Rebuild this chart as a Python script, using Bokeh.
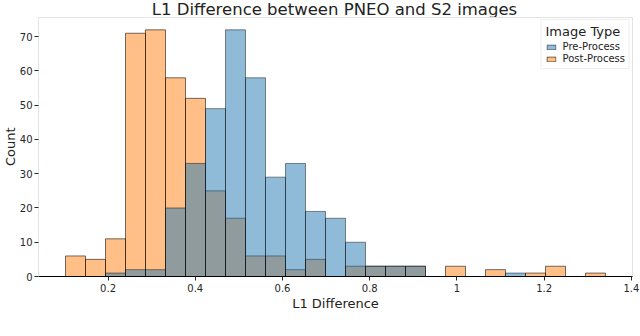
import numpy as np
from bokeh.plotting import figure
from bokeh.layouts import column, row
from bokeh.models import (ColumnDataSource, Legend, LegendItem, Div,
                          FixedTicker, Range1d)
from bokeh.embed import file_html
from bokeh.resources import INLINE

# ---------------- data ----------------
bin_start = 0.1024          # left edge of first bin
bin_width = 0.04586         # common bin width
pre_counts = [0, 0, 1, 2, 2, 20, 33, 49, 72, 58, 29, 33, 19, 17, 10,
              3, 3, 3, 0, 0, 0, 0, 1, 0, 0, 0, 0]
post_counts = [6, 5, 11, 71, 72, 58, 52, 25, 17, 6, 6, 2, 5, 0, 3,
               3, 3, 3, 0, 3, 0, 2, 0, 1, 3, 0, 1]
series_names = ["Pre-Process", "Post-Process"]
x_ticks = [0.2, 0.4, 0.6, 0.8, 1.0, 1.2, 1.4]
y_ticks = [0, 10, 20, 30, 40, 50, 60, 70]
title_text = "L1 Difference between PNEO and S2 images"
x_label = "L1 Difference"
y_label = "Count"
legend_title = "Image Type"
caption_html = ("<b>Figure 1:</b> Histogram of L<sub>1</sub> difference "
                "between PNEO and S2 images")

edges = bin_start + bin_width * np.arange(len(pre_counts) + 1)


def hist_source(counts):
    left, right, top = [], [], []
    for i, c in enumerate(counts):
        if c > 0:
            left.append(edges[i])
            right.append(edges[i + 1])
            top.append(c)
    return ColumnDataSource(dict(left=left, right=right, top=top,
                                 bottom=[0] * len(top)))


span = edges[-1] - edges[0]
x_lo = edges[0] - 0.05 * span
x_hi = edges[-1] + 0.05 * span
y_hi = max(max(pre_counts), max(post_counts)) * 1.05

# title as an HTML block above the plot
title_div = Div(
    text=('<div style="width:595px;margin-left:37px;text-align:center;'
          'white-space:nowrap;font-family:\'DejaVu Sans\';font-size:16.5px;'
          'line-height:19px;color:#222222;">' + title_text + '</div>'),
    width=640, height=17, margin=0)

# rotated y-axis label to the left of the plot
count_div = Div(
    text=('<div style="margin-top:149px;margin-left:3px;width:40px;'
          'line-height:15px;transform:rotate(-90deg);transform-origin:0 0;'
          'white-space:nowrap;font-family:\'DejaVu Sans\';font-size:13px;'
          'color:#222222;">' + y_label + '</div>'),
    width=16, height=313, margin=0)

p = figure(width=624, height=313, output_backend="svg", toolbar_location=None,
           x_range=Range1d(x_lo, x_hi), y_range=Range1d(0, y_hi),
           min_border_left=21, min_border_right=8, min_border_top=0,
           min_border_bottom=54, margin=0)

p.background_fill_color = "white"
p.border_fill_color = "white"
p.outline_line_color = "#e3e3e3"
p.outline_line_width = 1
p.xgrid.visible = False
p.ygrid.visible = False

blue = "#1f77b4"
orange = "#ff7f0e"

r_post = p.quad(left="left", right="right", top="top", bottom="bottom",
                source=hist_source(post_counts), fill_color=orange,
                fill_alpha=0.5, line_color="black", line_alpha=0.55,
                line_width=1)
r_pre = p.quad(left="left", right="right", top="top", bottom="bottom",
               source=hist_source(pre_counts), fill_color=blue,
               fill_alpha=0.5, line_color="black", line_alpha=0.45,
               line_width=1)

# axes
p.xaxis.ticker = FixedTicker(ticks=x_ticks)
p.yaxis.ticker = FixedTicker(ticks=y_ticks)
p.xaxis.axis_label = x_label
p.xaxis.axis_label_text_font = "DejaVu Sans"
p.xaxis.axis_label_text_font_size = "13px"
p.xaxis.axis_label_text_font_style = "normal"
p.xaxis.axis_label_text_color = "#222222"
p.xaxis.axis_label_standoff = 1
for ax in (p.xaxis[0], p.yaxis[0]):
    ax.major_label_text_font = "DejaVu Sans"
    ax.major_label_text_font_size = "10px"
    ax.major_label_text_color = "#262626"
    ax.major_tick_in = 0
    ax.major_tick_out = 4
    ax.major_tick_line_color = "#262626"
    ax.minor_tick_line_color = None
    ax.major_label_standoff = 3
p.yaxis.major_label_standoff = 2
p.xaxis.axis_line_color = "black"
p.xaxis.axis_line_width = 1.2
p.yaxis.axis_line_color = "#e3e3e3"

# legend
legend = Legend(items=[LegendItem(label=series_names[0], renderers=[r_pre]),
                       LegendItem(label=series_names[1], renderers=[r_post])],
                location="top_right", title=legend_title)
legend.margin = 2
legend.padding = 4
legend.spacing = 1
legend.label_height = 11
legend.glyph_height = 6
legend.glyph_width = 11
legend.label_standoff = 6
legend.label_text_font = "DejaVu Sans"
legend.label_text_font_size = "10px"
legend.label_text_color = "#222222"
legend.title_text_font = "DejaVu Sans"
legend.title_text_font_size = "13px"
legend.title_text_font_style = "normal"
legend.title_text_color = "#222222"
legend.title_standoff = 2
legend.border_line_color = "#dddddd"
legend.background_fill_alpha = 0.85
p.add_layout(legend)

# figure caption, cut off at the bottom edge as in the reference
caption = Div(
    text=('<div style="position:relative;top:5px;padding-left:3px;'
          'white-space:nowrap;'
          'font-family:\'Liberation Sans\';font-size:21px;line-height:18px;'
          'word-spacing:4px;color:black;">' + caption_html + '</div>'),
    width=640, height=6, margin=0, styles={"overflow": "hidden"})

layout = column(title_div, row(count_div, p, spacing=0), caption, spacing=0)

open("out.html", "w").write(file_html(layout, INLINE))
